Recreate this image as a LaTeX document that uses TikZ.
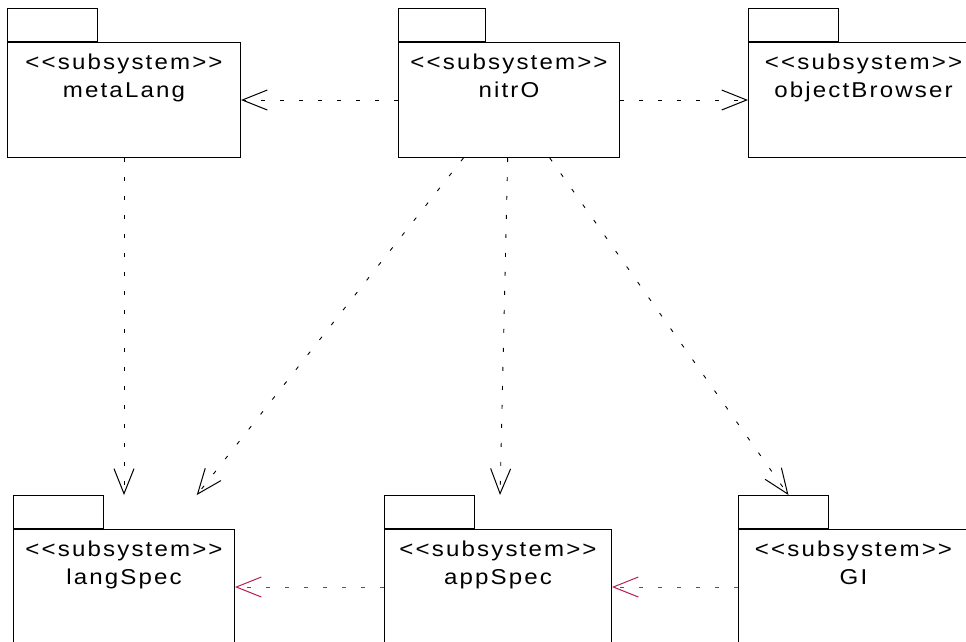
\documentclass[tikz,border=0pt]{standalone}
\usepackage{fontspec}
\setmainfont{Liberation Sans}[LetterSpace=10,FakeStretch=1.12]
\usetikzlibrary{arrows.meta,positioning}
\definecolor{depred}{RGB}{185,30,85}

\begin{document}
\begin{tikzpicture}[x=1pt,y=-1pt,
  body/.style={draw,line width=1pt,anchor=north west,minimum height=115pt,inner sep=0pt},
  tab/.style={draw,line width=1pt,anchor=south west,minimum width=90pt,minimum height=33pt,inner sep=0pt},
  pkgtext/.style={anchor=base,inner sep=0pt,font=\fontsize{21.5}{28}\selectfont},
  dep/.style={line width=0.9pt,dash pattern=on 4pt off 15pt,
    -{Straight Barb[length=25pt,width=20pt,line width=1pt]}}]
\path[use as bounding box] (0,0) rectangle (966,641);
\clip (0,0) rectangle (966,641);

% top row
\node[body,minimum width=233pt] (metaLang) at (7,42) {};
\node[tab] (metaLang-tab) at (metaLang.north west) {};
\node[pkgtext] (metaLang-st) at ([yshift=-27pt]metaLang.north) {<{}<subsystem>{}>};
\node[pkgtext] (metaLang-name) at ([yshift=-55pt]metaLang.north) {metaLang};

\node[body,minimum width=221pt] (nitrO) at (398,42) {};
\node[tab,minimum width=87pt] (nitrO-tab) at (nitrO.north west) {};
\node[pkgtext] (nitrO-st) at ([yshift=-27pt]nitrO.north) {<{}<subsystem>{}>};
\node[pkgtext] (nitrO-name) at ([yshift=-55pt]nitrO.north) {nitrO};

\node[body,minimum width=230pt] (objectBrowser) at (748,42) {};
\node[tab] (objectBrowser-tab) at (objectBrowser.north west) {};
\node[pkgtext] (objectBrowser-st) at ([yshift=-27pt]objectBrowser.north) {<{}<subsystem>{}>};
\node[pkgtext] (objectBrowser-name) at ([yshift=-55pt]objectBrowser.north) {objectBrowser};

% bottom row
\node[body,minimum width=221pt] (langSpec) at (13,529) {};
\node[tab] (langSpec-tab) at (langSpec.north west) {};
\node[pkgtext] (langSpec-st) at ([yshift=-27pt]langSpec.north) {<{}<subsystem>{}>};
\node[pkgtext] (langSpec-name) at ([yshift=-55pt]langSpec.north) {langSpec};

\node[body,minimum width=227pt] (appSpec) at (384,529) {};
\node[tab] (appSpec-tab) at (appSpec.north west) {};
\node[pkgtext] (appSpec-st) at ([yshift=-27pt]appSpec.north) {<{}<subsystem>{}>};
\node[pkgtext] (appSpec-name) at ([yshift=-55pt]appSpec.north) {appSpec};

\node[body,minimum width=230pt] (GI) at (738,529) {};
\node[tab] (GI-tab) at (GI.north west) {};
\node[pkgtext] (GI-st) at ([yshift=-27pt]GI.north) {<{}<subsystem>{}>};
\node[pkgtext] (GI-name) at ([yshift=-55pt]GI.north) {GI};

% dependencies
\draw[dep] (nitrO) -- (metaLang);
\draw[dep] (nitrO) -- (objectBrowser);
\draw[dep] (metaLang) -- (metaLang.center |- langSpec-tab.north);
\draw[dep] (nitrO) -- (intersection cs:first line={(nitrO.center)--(langSpec.center)},
  second line={(langSpec-tab.north west)--(langSpec-tab.north east)});
\draw[dep] (nitrO) -- (intersection cs:first line={(nitrO.center)--(appSpec.center)},
  second line={(appSpec-tab.north west)--(appSpec-tab.north east)});
\draw[dep] (nitrO) -- (intersection cs:first line={(nitrO.center)--(GI.center)},
  second line={(GI-tab.north west)--(GI-tab.north east)});
\draw[dep,depred] (appSpec) -- (langSpec);
\draw[dep,depred] (GI) -- (appSpec);
\end{tikzpicture}
\end{document}
